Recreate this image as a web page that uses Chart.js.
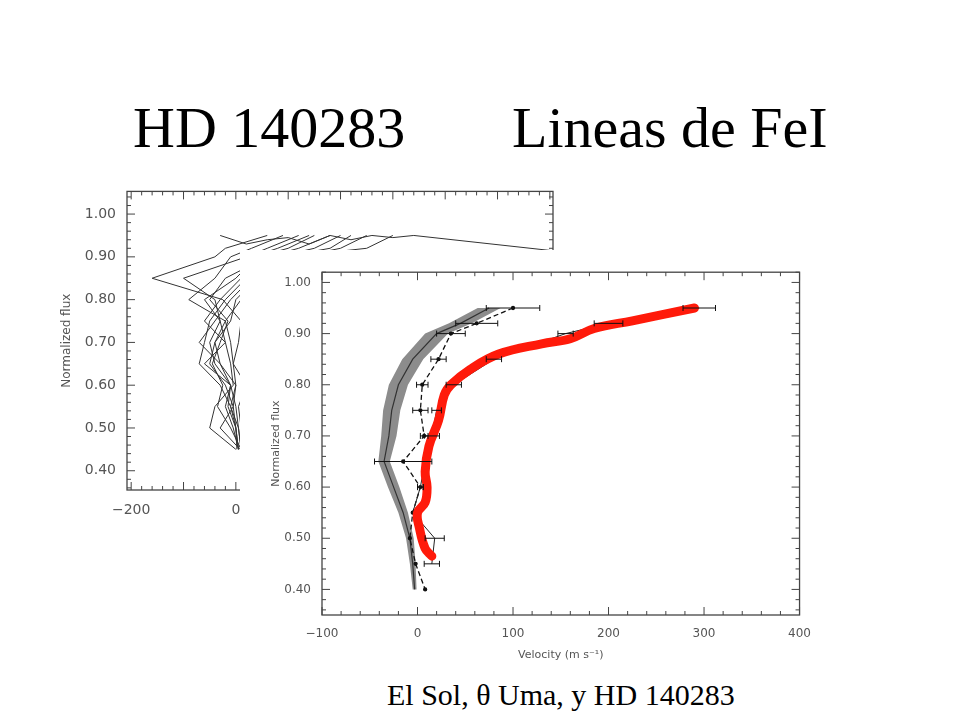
<!DOCTYPE html>
<html><head><meta charset="utf-8">
<script src="https://cdn.jsdelivr.net/npm/chart.js@4/dist/chart.umd.min.js"></script>
<style>
body{margin:0;width:960px;height:720px;background:#fff;position:relative;overflow:hidden;font-family:"Liberation Serif","Times New Roman",serif}
.t{position:absolute;white-space:nowrap;color:#000}
canvas{position:absolute}
#panel{position:absolute;left:240px;top:250px;width:592px;height:416px;background:#fff}
</style></head><body>
<div class="t" style="left:133px;top:94px;font-size:58px">HD 140283</div>
<div class="t" style="left:512px;top:94px;font-size:58px">Lineas de FeI</div>
<canvas id="back" style="left:60px;top:180px;width:500px;height:340px" width="500" height="340"></canvas>
<div id="panel"></div>
<canvas id="front" style="left:270px;top:262px;width:545px;height:400px" width="545" height="400"></canvas>
<div class="t" style="left:387px;top:678px;font-size:30px">El Sol, θ Uma, y HD 140283</div>
<script>
// ---- front chart data ----
const fluxLevels = [0.95,0.92,0.90,0.85,0.80,0.75,0.70,0.65,0.60,0.55,0.50,0.45,0.40];
const sunVel     = [75,45,20,-5,-20,-27,-30,-35,-25,-15,-8,-5,-3];
const sunSpread  = [12,12,12,11,10,9,8,6,6,5,4,3,2];
const umaVel     = [100,62,35,22,5,3,7,-15,3,-5,-8,-2,8];
const umaErr     = [28,22,15,8,6,8,4,30,3,0,0,0,0];
const hdFlux     = [0.95,0.92,0.90,0.85,0.80,0.75,0.70,0.65,0.60,0.55,0.50,0.45];
const hdVel      = [295,200,155,80,38,20,15,8,3,-5,18,15];
const hdErr      = [17,15,8,8,8,5,8,0,3,0,10,8];
const fitFlux    = [0.465,0.48,0.52,0.55,0.57,0.60,0.63,0.68,0.73,0.78,0.80,0.83,0.86,0.88,0.89,0.91,0.925,0.95];
const fitVel     = [15,8,2,0,8,10,8,12,22,28,35,55,85,130,160,185,225,290];
const frontXTicks = [-100,0,100,200,300,400];
const frontYTicks = [0.40,0.50,0.60,0.70,0.80,0.90,1.00];
// ---- back chart data (spaghetti of individual lines) ----
const backYTicks = [0.40,0.50,0.60,0.70,0.80,0.90,1.00];
const backXTicks = [-200,0];
const backFlux = [0.95,0.92,0.90,0.85,0.80,0.75,0.70,0.65,0.60,0.55,0.50,0.45];
const backLines = [
 [60,-20,-40,-160,-25,10,5,-5,20,5,10,15],
 [90,30,-10,-40,-90,-20,-40,-30,0,-10,5,10],
 [150,100,40,0,-60,-30,-50,-40,-10,-20,-5,5],
 [200,150,80,20,-20,-50,-60,-70,-30,-10,0,5],
 [120,60,20,-100,-40,-30,-20,-60,-10,0,5,10],
 [250,200,120,40,0,-10,-40,-50,-20,-5,-30,8],
 [140,80,30,10,-30,-60,-20,-10,-5,-40,-50,0],
 [300,250,100,30,-10,-40,-70,-30,-10,-15,0,5],
 [180,120,60,-20,-50,-15,-30,-45,-25,-35,-10,10],
 [220,180,90,50,10,-20,-10,-5,0,-5,0,2]
];
const backTopX = [-30,20,60,100,140,180,220,260,300,340,600];
const backTopY = [0.95,0.93,0.94,0.945,0.93,0.95,0.94,0.95,0.945,0.95,0.915];

const gray='#555';
function boxPlugin(xMinor,yMinor,len){return{id:'box',afterDatasetsDraw(c){
 const a=c.chartArea,ctx=c.ctx,xs=c.scales.x,ys=c.scales.y;
 ctx.save();ctx.strokeStyle='#444';ctx.lineWidth=1.3;ctx.strokeRect(a.left,a.top,a.right-a.left,a.bottom-a.top);
 ctx.lineWidth=1;
 for(let v=Math.ceil(xs.min/xMinor)*xMinor;v<=xs.max+1e-9;v+=xMinor){const p=xs.getPixelForValue(v);const L=(Math.abs(v/ (xMinor*5)-Math.round(v/(xMinor*5)))<1e-6)?len*2:len;
  ctx.beginPath();ctx.moveTo(p,a.bottom);ctx.lineTo(p,a.bottom-L);ctx.moveTo(p,a.top);ctx.lineTo(p,a.top+L);ctx.stroke();}
 for(let i=Math.ceil(ys.min/yMinor-1e-6);i*yMinor<=ys.max+1e-9;i++){const v=i*yMinor;const p=ys.getPixelForValue(v);const L=(i%5===0)?len*2:len;
  ctx.beginPath();ctx.moveTo(a.left,p);ctx.lineTo(a.left+L,p);ctx.moveTo(a.right,p);ctx.lineTo(a.right-L,p);ctx.stroke();}
 ctx.restore();}}}
const errPlugin={id:'err',afterDatasetsDraw(c){const ctx=c.ctx;ctx.save();
 c.data.datasets.forEach((d,i)=>{if(!d.xerr)return;const xs=c.scales.x,ys=c.scales.y;
  d.data.forEach((p,j)=>{const e=d.xerr[j];if(!e)return;const y=ys.getPixelForValue(p.y),x1=xs.getPixelForValue(p.x-e),x2=xs.getPixelForValue(p.x+e);
   ctx.strokeStyle='#111';ctx.lineWidth=1;ctx.setLineDash([]);ctx.beginPath();ctx.moveTo(x1,y);ctx.lineTo(x2,y);ctx.moveTo(x1,y-3);ctx.lineTo(x1,y+3);ctx.moveTo(x2,y-3);ctx.lineTo(x2,y+3);ctx.stroke();});});
 ctx.restore();}};
const bandPlugin={id:'band',beforeDatasetsDraw(c){const ctx=c.ctx,xs=c.scales.x,ys=c.scales.y;ctx.save();
 ctx.fillStyle='#8c8c8c';ctx.beginPath();
 fluxLevels.forEach((f,i)=>{const X=xs.getPixelForValue(sunVel[i]-sunSpread[i]),Y=ys.getPixelForValue(f);i?ctx.lineTo(X,Y):ctx.moveTo(X,Y);});
 for(let i=fluxLevels.length-1;i>=0;i--)ctx.lineTo(xs.getPixelForValue(sunVel[i]+sunSpread[i]),ys.getPixelForValue(fluxLevels[i]));
 ctx.closePath();ctx.fill();ctx.restore();}};
const pts=(xs,ys)=>xs.map((x,i)=>({x:x,y:ys[i]}));
const font={family:'"DejaVu Sans",Arial,sans-serif'};

new Chart(document.getElementById('front'),{type:'line',
 data:{datasets:[
  {data:pts(fitVel,fitFlux),borderColor:'#ff1a0a',borderWidth:9,pointRadius:0,tension:0.4,borderCapStyle:'round',order:1},
  {data:pts(hdVel,hdFlux),borderColor:'#222',borderWidth:1,pointRadius:0,xerr:hdErr,order:2},
  {data:pts(umaVel,fluxLevels),borderColor:'#111',borderWidth:1.3,borderDash:[5,3],pointRadius:1.5,pointBackgroundColor:'#111',xerr:umaErr,order:3},
  {data:pts(sunVel,fluxLevels),borderColor:'#333',borderWidth:1.2,pointRadius:0,order:4}
 ]},
 options:{animation:false,responsive:false,layout:{padding:{top:10,right:10}},plugins:{legend:{display:false},tooltip:{enabled:false}},
  scales:{
   x:{type:'linear',min:-100,max:400,afterBuildTicks:s=>{s.ticks=frontXTicks.map(v=>({value:v}))},afterFit:s=>{s.height=47},
      grid:{display:false},border:{display:false},ticks:{color:gray,font:{...font,size:12},padding:4,callback:v=>v<0?'−'+(-v):v},
      title:{display:true,text:'Velocity (m s⁻¹)',color:gray,font:{...font,size:11},padding:0}},
   y:{type:'linear',min:0.35,max:1.02,afterBuildTicks:s=>{s.ticks=frontYTicks.map(v=>({value:v}))},afterFit:s=>{s.width=52},
      grid:{display:false},border:{display:false},ticks:{color:gray,font:{...font,size:12},callback:v=>v.toFixed(2)},
      title:{display:true,text:'Normalized flux',color:gray,font:{...font,size:11},padding:0}}
  }},
 plugins:[bandPlugin,boxPlugin(20,0.02,4),errPlugin]});

const backSets=backLines.map(l=>({data:pts(l,backFlux),borderColor:'#333',borderWidth:1,pointRadius:0}));
backSets.push({data:pts(backTopX,backTopY),borderColor:'#333',borderWidth:1,pointRadius:0});
new Chart(document.getElementById('back'),{type:'line',data:{datasets:backSets},
 options:{animation:false,responsive:false,layout:{padding:{top:8,right:7}},plugins:{legend:{display:false},tooltip:{enabled:false}},
  scales:{
   x:{type:'linear',min:-208,max:606,afterBuildTicks:s=>{s.ticks=backXTicks.map(v=>({value:v}))},afterFit:s=>{s.height=30},
      grid:{display:false},border:{display:false},ticks:{color:gray,font:{...font,size:14},padding:4,callback:v=>v<0?'−'+(-v):v}},
   y:{type:'linear',min:0.355,max:1.053,afterBuildTicks:s=>{s.ticks=backYTicks.map(v=>({value:v}))},afterFit:s=>{s.width=67},
      grid:{display:false},border:{display:false},ticks:{color:gray,font:{...font,size:14},callback:v=>v.toFixed(2)},
      title:{display:true,text:'Normalized flux',color:gray,font:{...font,size:12},padding:0}}
  }},
 plugins:[boxPlugin(20,0.02,4)]});
</script></body></html>
